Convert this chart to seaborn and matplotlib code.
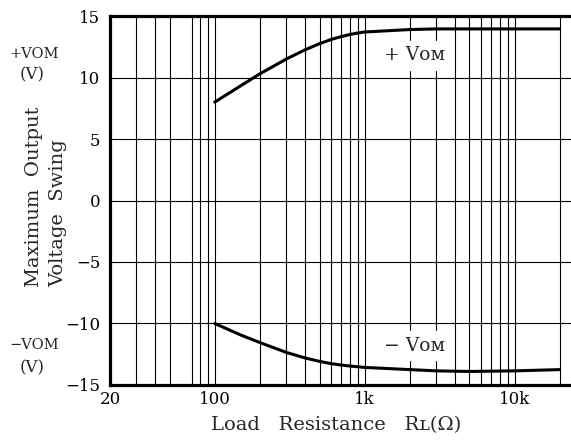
import numpy as np
import pandas as pd
import seaborn as sns
import matplotlib.pyplot as plt

# load resistance (ohm) and output swing (V)
r_load = [100, 150, 200, 300, 400, 500, 600, 700, 800, 900, 1000, 2000, 3000, 5000, 10000, 20000]
v_pos = [8.0, 9.35, 10.3, 11.5, 12.25, 12.75, 13.1, 13.33, 13.5, 13.62, 13.7, 13.9, 13.95, 13.95, 13.95, 13.95]
v_neg = [-10.0, -10.95, -11.55, -12.35, -12.8, -13.08, -13.27, -13.38, -13.46, -13.52, -13.57,
         -13.75, -13.85, -13.9, -13.85, -13.75]

x_major = [20, 100, 1000, 10000]
x_major_labels = ['20', '100', '1k', '10k']
x_minor = [30, 40, 50, 70, 80, 90, 200, 300, 400, 500, 600, 700, 800, 900,
           2000, 3000, 4000, 5000, 6000, 7000, 8000, 9000, 20000]
y_ticks = [-15, -10, -5, 0, 5, 10, 15]

df = pd.DataFrame({'R': r_load * 2,
                   'V': v_pos + v_neg,
                   'curve': ['+Vom'] * len(r_load) + ['-Vom'] * len(r_load)})

sns.set_theme(style='white')
plt.rcParams['font.family'] = ['DejaVu Serif', 'DejaVu Sans']

fig = plt.figure(figsize=(5.71, 4.41), dpi=100)
ax = fig.add_axes([0.1926, 0.127, 0.8074, 0.8367])

sns.lineplot(data=df, x='R', y='V', units='curve', estimator=None,
             color='black', linewidth=2.2, ax=ax, zorder=5)

ax.set_xscale('log')
ax.set_xlim(20, 23800)
ax.set_ylim(-15, 15)

ax.set_xticks(x_major)
ax.set_xticklabels(x_major_labels)
ax.set_xticks(x_minor, minor=True)
ax.set_yticks(y_ticks)
ax.set_yticklabels([str(v).replace('-', '\u2212') for v in y_ticks])
ax.tick_params(axis='both', which='both', length=0, labelsize=12, colors='black')
ax.tick_params(axis='x', pad=4)
ax.tick_params(axis='y', pad=7)

ax.grid(True, which='both', axis='x', color='black', linewidth=0.8)
ax.grid(True, which='major', axis='y', color='black', linewidth=0.8)

for side in ['left', 'top', 'bottom']:
    ax.spines[side].set_visible(True)
    ax.spines[side].set_color('black')
    ax.spines[side].set_linewidth(2.3)
ax.spines['right'].set_visible(False)

ax.set_xlabel('')
ax.set_ylabel('')

ax.text(1350, 11.8, '+ V\u1d0f\u1d0d', fontsize=13.5, va='center', ha='left',
        backgroundcolor='white', zorder=6)
ax.text(1350, -11.8, '\u2212 V\u1d0f\u1d0d', fontsize=13.5, va='center', ha='left',
        backgroundcolor='white', zorder=6)

fig.text(336 / 571, 1 - 425 / 441, 'Load   Resistance   R\u029f(\u03a9)',
         fontsize=14, ha='center', va='center')
fig.text(34 / 571, 1 - 197 / 441, 'Maximum  Output', rotation=90,
         fontsize=14, ha='center', va='center')
fig.text(58 / 571, 1 - 213 / 441, 'Voltage  Swing', rotation=90,
         fontsize=14, ha='center', va='center')

fig.text(34 / 571, 1 - 54 / 441, '+VOM', fontsize=10.5, ha='center', va='center')
fig.text(32 / 571, 1 - 75 / 441, '(V)', fontsize=12, ha='center', va='center')
fig.text(34 / 571, 1 - 345 / 441, '\u2212VOM', fontsize=10.5, ha='center', va='center')
fig.text(32 / 571, 1 - 368 / 441, '(V)', fontsize=12, ha='center', va='center')

fig.savefig('out.png', dpi=100)
